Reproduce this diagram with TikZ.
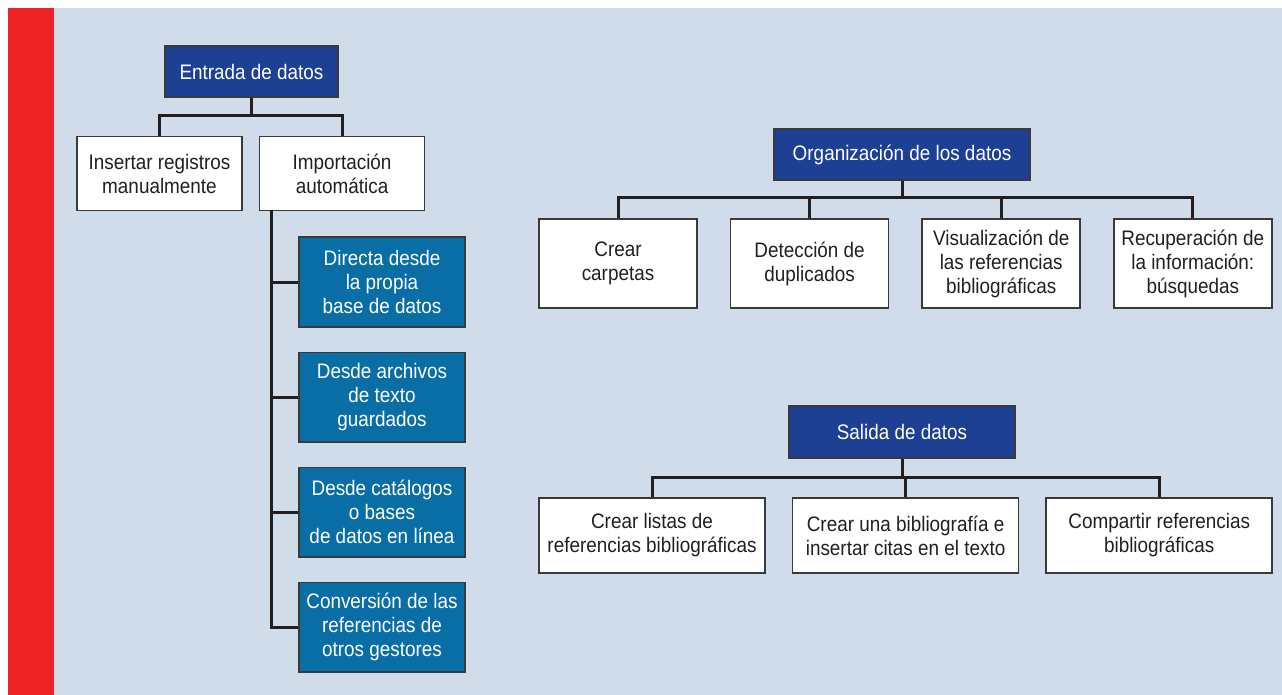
\documentclass[tikz,border=0pt]{standalone}
\usepackage{fontspec}
\setmainfont[FakeStretch=0.9]{Liberation Sans}
\usepackage{xcolor}
\usepackage{tikz}
\usetikzlibrary{positioning}

\definecolor{panelbg}{HTML}{D0DCE9}
\definecolor{sidebar}{HTML}{EE2326}
\definecolor{headblue}{HTML}{1D3F94}
\definecolor{srcblue}{HTML}{0A6EA6}
\definecolor{boxline}{HTML}{3A3A3A}
\definecolor{ink}{HTML}{231F20}

\tikzset{
  every node/.style={font=\fontsize{21}{24}\selectfont, align=center, inner sep=0pt},
  headbox/.style={draw=boxline, line width=1.6pt, fill=headblue, text=white},
  leafbox/.style={draw=boxline, line width=1.6pt, fill=white, text=ink},
  srcbox/.style={draw=boxline, line width=1.6pt, fill=srcblue, text=white,
    minimum width=166pt, minimum height=89.5pt},
  link/.style={draw=ink, line width=3pt}
}

\begin{document}
\begin{tikzpicture}[x=1pt,y=-1pt]
	\useasboundingbox (0,0) rectangle (1282,695);
	\fill[panelbg] (8,8) rectangle (1282,695);
	\fill[sidebar] (8,8) rectangle (54,695);

	\node[headbox, minimum width=173pt, minimum height=51pt] (entrada) at (251.5,71.5) {Entrada de datos};
	\node[leafbox, minimum width=165pt, minimum height=74pt] (insertar) at (159.5,173.5) {Insertar registros\\manualmente};
	\node[leafbox, minimum width=165pt, minimum height=74pt] (importacion) [right = 16pt of insertar] {Importación\\automática};

	\node[srcbox] (directa) at (382,282) {Directa desde\\la propia\\base de datos};
	\node[srcbox] (archivos) [below = 24pt of directa] {Desde archivos\\de texto\\guardados};
	\node[srcbox] (catalogos) [below = 24pt of archivos] {Desde catálogos\\o bases\\de datos en línea};
	\node[srcbox] (conversion) [below = 24pt of catalogos] {Conversión de las\\referencias de\\otros gestores};

	\coordinate (busA) at (251.5,116);
	\coordinate (trunk) at (271,210);
	\draw[link] (entrada) -- (busA);
	\draw[link] (insertar.north) |- (busA) -| (importacion.north);
	\draw[link] (trunk) |- (directa.west);
	\draw[link] (trunk) |- (archivos.west);
	\draw[link] (trunk) |- (catalogos.west);
	\draw[link] (trunk) |- (conversion.west);

	\node[headbox, minimum width=256pt, minimum height=51pt] (organizacion) at (902,154.5) {Organización de los datos};
	\node[leafbox, minimum width=158pt, minimum height=89pt] (carpetas) at (618,263.5) {Crear\\carpetas};
	\node[leafbox, minimum width=158pt, minimum height=89pt] (duplicados) [right = 32pt of carpetas] {Detección de\\duplicados};
	\node[leafbox, minimum width=158pt, minimum height=89pt] (visualizacion) [right = 32pt of duplicados] {Visualización de\\las referencias\\bibliográficas};
	\node[leafbox, minimum width=158pt, minimum height=89pt] (recuperacion) [right = 32pt of visualizacion] {Recuperación de\\la información:\\búsquedas};

	\coordinate (busB) at (902,198);
	\draw[link] (organizacion) -- (busB);
	\draw[link] (carpetas.north) |- (busB) -| (recuperacion.north);
	\draw[link] (duplicados.north) -- (duplicados.north |- busB);
	\draw[link] (visualizacion.north) -- (visualizacion.north |- busB);

	\node[headbox, minimum width=226pt, minimum height=52pt] (salida) at (902,432) {Salida de datos};
	\node[leafbox, minimum width=226pt, minimum height=75pt] (listas) at (652,535.5) {Crear listas de\\referencias bibliográficas};
	\node[leafbox, minimum width=226pt, minimum height=75pt] (citas) [right = 26pt of listas] {Crear una bibliografía e\\insertar citas en el texto};
	\node[leafbox, minimum width=226pt, minimum height=75pt] (compartir) [right = 26pt of citas] {Compartir referencias\\bibliográficas};

	\coordinate (busC) at (902,477);
	\draw[link] (salida) -- (busC);
	\draw[link] (listas.north) |- (busC) -| (compartir.north);
	\draw[link] (citas.north) -- (citas.north |- busC);
\end{tikzpicture}
\end{document}
